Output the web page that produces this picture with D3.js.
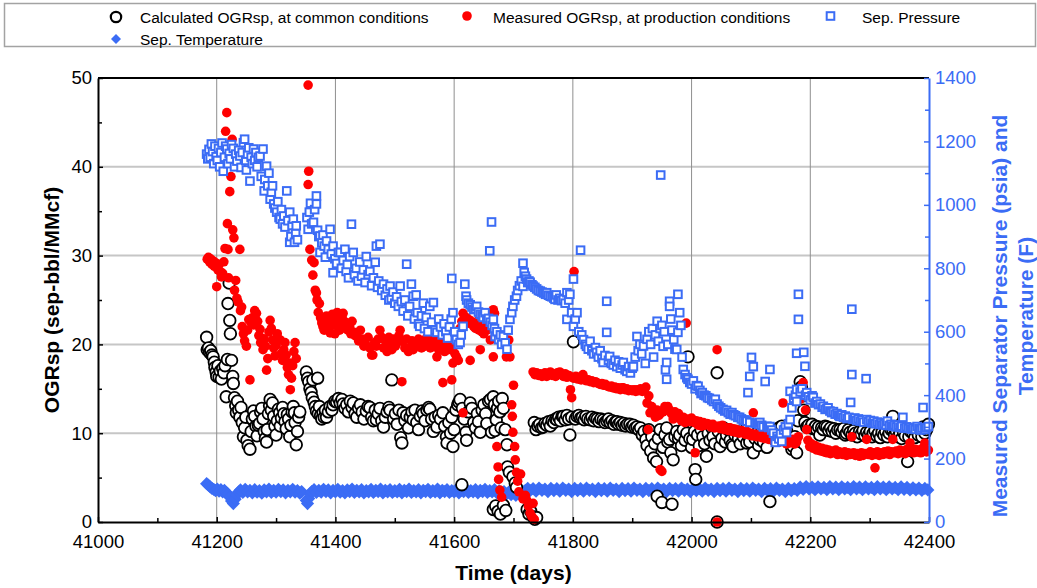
<!DOCTYPE html>
<html>
<head>
<meta charset="utf-8">
<script src="https://cdn.jsdelivr.net/npm/d3@7"></script>
<style>
  body { margin: 0; background: #fff; }
  svg { display: block; font-family: "Liberation Sans", Arial, sans-serif; }
</style>
</head>
<body>
<svg id="chart" width="1037" height="588"></svg>
<script>
// [day, OGR sep-bbl/MMcf] - calculated at common conditions
var calcOgr = [[41183,20.8],[41184,19.4],[41186,19.6],[41188,19.1],[41190,19.3],[41192,18.8],[41194,18.6],[41196,18.0],[41197,17.4],[41199,16.9],[41200,16.4],[41202,17.6],[41204,16.3],[41206,17.0],[41208,16.1],[41210,17.3],[41212,16.8],[41214,17.6],[41216,14.1],[41218,18.3],[41219,24.6],[41221,26.9],[41222,22.7],[41223,21.2],[41225,18.2],[41227,16.4],[41228,15.6],[41230,14.0],[41232,13.1],[41233,12.3],[41235,13.6],[41237,12.6],[41239,11.8],[41241,12.9],[41243,11.2],[41245,9.6],[41247,10.6],[41249,11.8],[41251,9.2],[41253,8.6],[41256,8.2],[41258,10.2],[41260,11.6],[41262,12.5],[41264,11.9],[41266,10.8],[41268,9.7],[41270,10.9],[41272,11.1],[41274,12.4],[41276,12.8],[41278,11.6],[41280,10.2],[41282,9.4],[41284,9.0],[41285,10.4],[41287,12.2],[41289,13.1],[41290,13.8],[41292,12.6],[41294,13.4],[41296,11.9],[41298,10.8],[41300,9.8],[41302,11.4],[41304,12.7],[41306,12.3],[41307,10.8],[41309,11.7],[41311,12.9],[41313,12.2],[41315,11.3],[41317,10.5],[41319,12.1],[41321,11.6],[41323,9.6],[41325,10.9],[41327,12.4],[41329,13.0],[41331,12.3],[41332,11.2],[41334,8.7],[41336,10.2],[41338,11.8],[41340,12.4],
  [41351,16.9],[41353,16.2],[41355,15.8],[41357,15.0],[41359,14.6],[41361,14.0],[41362,16.0],[41364,13.5],[41366,13.0],[41368,12.5],[41370,16.2],[41371,12.2],[41373,13.0],[41375,12.0],[41377,11.6],[41379,12.3],[41381,11.8],[41383,12.6],[41385,11.8],[41388,12.4],[41391,13.0],[41394,12.6],[41396,13.2],[41399,13.6],[41402,13.5],[41405,13.9],[41408,13.4],[41411,13.8],[41413,13.3],[41416,12.8],[41419,13.2],[41422,12.4],[41425,13.6],[41428,12.9],[41430,13.4],[41433,12.2],[41436,11.8],[41439,12.8],[41442,13.2],[41445,12.4],[41448,11.6],[41452,12.5],[41455,13.0],[41458,12.9],[41461,11.8],[41464,11.4],[41467,12.6],[41469,11.5],[41472,12.2],[41475,12.8],[41478,11.4],[41481,10.7],[41484,11.8],[41487,12.4],[41490,12.9],[41492,12.6],[41495,16.0],[41498,11.6],[41501,12.2],[41504,11.0],[41507,12.6],[41510,9.5],[41512,8.9],[41514,12.3],[41517,11.4],[41520,12.0],[41523,10.6],[41526,11.8],[41529,12.4],[41531,11.5],[41534,12.6],[41537,11.2],[41540,10.4],[41543,11.9],[41546,12.5],[41548,12.2],[41551,11.4],[41554,12.6],[41557,12.9],[41559,12.7],[41562,11.6],[41565,10.2],[41568,11.8],[41571,10.7],[41574,12.0],[41577,11.6],[41581,12.3],[41584,10.8],[41587,9.6],[41588,8.9],[41591,11.2],[41594,10.0],[41596,11.8],[41598,8.5],[41600,10.4],[41603,12.6],[41606,13.2],[41608,13.5],[41610,13.8],[41613,4.2],[41614,12.8],[41617,11.6],[41620,10.1],[41621,9.2],[41624,12.4],[41627,13.4],[41630,12.8],[41633,11.2],[41636,10.6],[41639,12.2],[41641,11.3],[41644,10.1],[41647,12.6],[41650,13.2],[41653,12.2],[41655,11.1],[41658,13.6],[41661,13.8],[41663,10.1],[41666,14.1],[41668,13.2],[41669,10.3],[41671,11.5],[41673,12.8],[41675,13.6],[41677,12.4],[41679,10.6],[41681,13.9],[41683,12.8],[41686,10.4],[41689,8.7],[41690,6.2],[41693,5.6],[41699,5.1],[41703,4.4],[41705,3.9],[41666,1.4],[41670,1.8],[41674,1.2],[41678,0.9],[41683,1.9],[41687,1.3],[41723,1.4],[41726,0.9],[41729,1.2],[41733,0.6],[41736,0.3],[41739,0.5],
  [41735,11.2],[41738,10.4],[41741,10.8],[41744,11.0],[41747,10.6],[41750,10.7],[41753,11.1],[41756,10.9],[41759,11.3],[41762,10.8],[41765,11.4],[41768,11.2],[41771,11.6],[41773,11.5],[41776,11.8],[41779,11.4],[41782,11.9],[41784,11.9],[41787,11.5],[41790,12.0],[41793,11.6],[41795,9.8],[41798,11.8],[41801,20.3],[41804,11.6],[41807,11.9],[41810,12.0],[41813,11.7],[41816,11.8],[41819,11.5],[41822,11.9],[41825,11.6],[41829,11.5],[41832,11.8],[41835,11.4],[41838,11.7],[41841,11.6],[41844,11.3],[41847,11.6],[41851,11.5],[41854,11.2],[41857,11.4],[41860,11.6],[41863,11.2],[41866,11.4],[41869,11.0],[41872,11.3],[41874,11.3],[41877,11.0],[41880,11.2],[41883,10.9],[41886,11.1],[41889,10.8],[41892,11.0],[41896,11.0],[41899,10.7],[41902,10.9],[41905,10.6],[41908,10.7],[41911,10.4],[41914,10.6],[41917,9.8],[41920,10.2],[41923,9.3],[41925,8.6],[41928,10.4],[41931,8.0],[41933,9.6],[41936,7.2],[41938,8.8],[41941,6.8],[41942,2.9],[41944,9.4],[41947,10.4],[41950,2.2],[41952,8.4],[41955,9.8],[41958,10.6],[41960,9.0],[41963,9.3],[41965,7.8],[41967,2.0],[41969,7.0],[41972,9.6],[41975,10.2],[41978,9.4],[41980,9.8],[41983,8.6],[41986,10.4],[41989,9.2],[41992,10.0],[41994,18.6],[41997,9.4],[42000,8.4],[42002,9.3],[42005,10.2],[42006,5.9],[42007,4.8],[42010,9.8],[42013,8.6],[42016,10.4],[42019,9.6],[42022,8.8],[42025,7.4],[42028,10.0],[42031,9.2],[42034,10.6],[42036,9.6],[42039,8.8],[42043,16.8],[42043,0.0],[42045,10.2],[42048,8.5],[42051,9.4],[42054,10.6],[42057,9.0],[42059,9.8],[42062,10.4],[42065,9.2],[42068,8.7],[42070,8.5],[42073,9.8],[42076,10.2],[42079,9.4],[42082,8.8],[42085,10.0],[42087,9.6],[42090,10.3],[42093,8.9],[42096,9.6],[42098,9.0],[42101,10.2],[42104,7.8],[42107,9.4],[42110,10.0],[42113,8.6],[42115,9.3],[42118,10.1],[42121,9.0],[42124,9.8],[42127,8.4],[42130,9.6],[42132,2.3],[42135,10.2],[42138,9.4],[42141,10.4],[42144,9.8],[42147,10.6],[42149,10.0],[42152,10.8],[42155,9.6],[42158,10.4],[42160,10.4],[42163,9.2],[42166,8.9],[42169,8.2],[42171,8.5],[42174,9.6],[42177,7.8],[42179,11.4],[42181,14.6],[42183,15.8],[42185,15.2],[42187,14.2],[42189,12.6],[42191,11.2],[42194,10.7],[42197,10.9],[42200,10.6],[42203,11.0],[42206,10.5],[42209,10.8],[42211,10.4],[42214,10.7],[42216,9.8],[42219,10.6],[42222,10.4],[42225,10.8],[42228,10.7],[42231,10.3],[42234,10.6],[42237,10.2],[42240,10.5],[42243,10.0],[42246,10.4],[42250,10.4],[42253,10.1],[42256,10.5],[42259,9.8],[42261,10.0],[42264,10.4],[42267,10.1],[42270,9.8],[42273,10.3],[42276,10.0],[42279,9.6],[42283,10.2],[42286,9.9],[42289,10.3],[42292,9.7],[42295,10.1],[42298,9.8],[42301,10.2],[42304,9.6],[42306,10.0],[42309,10.3],[42312,9.7],[42315,10.0],[42318,9.5],[42321,10.1],[42324,9.8],[42327,10.2],[42330,9.6],[42333,10.0],[42336,10.4],[42339,11.9],[42339,10.4],[42342,9.8],[42345,10.2],[42348,9.6],[42351,10.0],[42354,9.4],[42357,10.1],[42360,9.7],[42364,6.8],[42366,9.6],[42369,10.2],[42373,10.0],[42376,9.5],[42379,10.3],[42382,9.8],[42385,10.4],[42388,9.6],[42390,10.7],[42393,10.0],[42396,10.4],[42399,11.0]];

// [day, OGR] - measured at production conditions
var measOgr = [[41184,29.6],[41186,29.8],[41188,29.3],[41190,29.6],[41192,29.0],[41194,29.4],[41196,28.8],[41198,29.2],[41200,26.5],[41202,28.4],[41204,29.0],[41206,28.2],[41208,27.6],[41210,28.0],[41212,29.3],[41214,30.8],[41215,44.0],[41217,46.1],[41218,33.6],[41219,30.7],[41220,27.5],[41222,37.2],[41224,38.9],[41226,43.1],[41227,32.9],[41229,32.0],[41230,26.1],[41232,27.2],[41234,25.2],[41236,24.8],[41239,30.7],[41240,23.8],[41242,24.2],[41243,22.0],[41245,21.2],[41247,20.4],[41250,19.8],[41252,21.6],[41254,22.8],[41256,16.0],[41258,22.4],[41260,23.0],[41262,22.2],[41264,23.8],[41267,23.5],[41269,22.6],[41271,21.0],[41273,21.7],[41274,20.2],[41276,20.7],[41278,19.4],[41280,20.6],[41282,19.8],[41284,17.1],[41286,18.4],[41288,21.4],[41290,22.7],[41292,21.8],[41294,20.5],[41296,19.6],[41298,18.7],[41300,19.9],[41302,21.2],[41304,20.6],[41307,20.5],[41309,19.0],[41311,18.2],[41313,19.4],[41315,20.2],[41317,18.8],[41319,17.4],[41321,16.6],[41323,17.9],[41324,14.9],[41326,16.2],[41328,17.6],[41330,19.2],[41332,20.2],[41334,18.4],
  [41354,49.2],[41355,39.5],[41354,38.0],[41357,30.7],[41360,29.5],[41362,27.8],[41364,29.2],[41366,26.1],[41368,25.8],[41369,25.0],[41371,23.6],[41373,24.6],[41375,23.0],[41377,22.4],[41379,22.0],[41381,21.6],[41383,22.6],[41385,23.2],[41387,21.8],[41389,22.8],[41391,21.3],[41393,22.4],[41395,23.4],[41397,22.2],[41399,21.2],[41401,22.8],[41403,23.6],[41405,22.4],[41407,21.6],[41409,22.8],[41411,23.2],[41413,23.5],[41415,22.6],[41417,21.8],[41419,22.4],[41421,21.6],[41424,22.0],[41426,21.2],[41428,22.6],[41430,21.4],[41433,21.0],[41436,21.2],[41439,20.4],[41442,21.6],[41445,20.6],[41448,19.8],[41452,19.9],[41455,20.8],[41458,19.6],[41461,18.8],[41463,18.8],[41466,20.2],[41469,19.8],[41472,20.6],[41475,21.6],[41478,20.8],[41481,19.6],[41484,20.4],[41487,19.2],[41490,20.8],[41492,20.2],[41495,19.4],[41498,20.6],[41501,19.8],[41504,20.2],[41507,21.0],[41509,21.6],[41512,15.8],[41514,20.4],[41517,19.6],[41520,20.6],[41523,19.2],[41526,19.7],[41529,20.4],[41531,19.4],[41534,20.0],[41537,19.8],[41540,20.6],[41542,20.2],[41545,19.6],[41548,20.4],[41551,19.8],[41554,20.8],[41557,20.2],[41560,19.6],[41563,20.4],[41565,20.8],[41568,19.8],[41571,18.6],[41574,19.4],[41577,20.2],[41580,19.6],[41581,15.7],[41584,19.2],[41587,20.0],[41590,19.4],[41593,19.7],[41596,16.0],[41598,17.9],[41601,19.0],[41604,18.6],[41607,18.2],
  [41610,21.8],[41613,22.6],[41615,23.5],[41615,12.3],[41618,22.8],[41621,23.0],[41624,22.4],[41627,22.7],[41627,18.2],[41630,22.4],[41633,22.0],[41636,21.8],[41639,22.6],[41642,21.6],[41644,22.2],[41644,19.4],[41647,21.4],[41650,21.2],[41653,22.0],[41655,21.6],[41657,22.4],[41660,22.8],[41661,20.5],[41663,23.2],[41666,23.9],[41668,23.5],[41666,18.6],[41672,8.5],[41674,6.2],[41675,4.8],[41677,3.6],[41680,2.8],[41688,18.6],[41692,20.5],[41694,18.6],[41697,13.2],[41698,11.9],[41699,10.1],[41700,15.4],[41702,8.5],[41703,7.0],[41705,5.6],[41707,4.6],[41709,3.4],[41712,5.4],[41716,2.6],[41720,3.0],[41722,2.5],[41725,1.8],[41728,1.0],[41731,0.6],[41733,2.1],[41735,0.3],
  [41733,16.9],[41736,16.6],[41739,16.8],[41742,16.5],[41745,16.7],[41748,16.4],[41750,16.5],[41753,16.8],[41756,16.4],[41759,16.6],[41762,16.9],[41765,16.5],[41768,16.7],[41771,16.4],[41774,16.8],[41778,16.9],[41781,16.6],[41784,16.4],[41787,16.7],[41790,16.3],[41793,16.5],[41795,16.4],[41796,14.9],[41798,14.0],[41801,16.2],[41802,28.2],[41805,16.4],[41808,16.1],[41811,16.3],[41814,16.0],[41817,16.6],[41820,16.1],[41823,15.9],[41826,16.0],[41829,15.8],[41832,15.9],[41835,15.7],[41838,15.8],[41840,15.7],[41843,15.6],[41846,15.5],[41849,15.6],[41852,15.4],[41855,15.5],[41858,15.3],[41862,15.2],[41865,15.3],[41868,15.1],[41871,15.2],[41874,15.0],[41877,15.1],[41880,14.9],[41883,15.1],[41885,15.1],[41888,14.9],[41891,15.0],[41894,14.8],[41897,14.9],[41900,14.8],[41903,14.9],[41906,14.7],[41908,14.9],[41911,14.8],[41914,15.0],[41917,14.7],[41920,14.9],[41923,15.2],[41925,13.4],[41927,10.4],[41928,14.2],[41930,12.3],[41933,13.0],[41936,12.4],[41939,11.8],[41942,12.6],[41945,12.0],[41947,12.2],[41947,5.9],[41950,5.7],[41952,12.4],[41955,13.0],[41958,12.6],[41960,13.0],[41963,12.6],[41966,12.2],[41969,11.6],[41972,12.4],[41975,11.8],[41978,12.2],[41980,11.9],[41983,11.4],[41986,11.8],[41989,11.2],[41991,22.4],[41994,11.6],[41997,11.3],[42000,11.7],[42002,11.5],[42005,11.2],[42006,7.8],[42008,11.4],[42011,10.9],[42014,11.3],[42017,10.8],[42020,11.2],[42023,10.9],[42026,11.1],[42030,11.0],[42033,10.7],[42036,11.0],[42039,10.6],[42043,19.4],[42043,0.0],[42046,10.8],[42049,10.5],[42052,10.9],[42055,10.4],[42059,10.6],[42062,10.3],[42065,10.6],[42068,10.2],[42071,10.5],[42074,10.1],[42077,10.4],[42080,10.0],[42084,10.3],[42087,10.2],[42090,9.9],[42093,10.2],[42096,9.8],[42099,10.0],[42102,9.7],[42104,12.3],[42107,9.9],[42110,9.6],[42113,9.8],[42115,9.8],[42118,9.5],[42121,9.7],[42124,9.4],[42127,9.6],[42130,9.3],[42133,9.5],[42136,9.2],[42139,9.4],[42142,9.1],[42145,9.3],[42148,9.0],[42151,9.2],[42154,13.4],[42157,9.0],[42160,8.8],[42163,9.1],[42166,8.9],[42169,9.2],[42171,9.3],[42174,8.8],[42177,9.0],[42180,9.6],[42183,13.8],[42186,15.3],[42188,15.7],[42190,14.2],[42192,12.6],[42194,10.4],[42196,9.2],[42199,8.5],[42202,8.8],[42205,8.3],[42208,8.6],[42211,8.1],[42214,8.4],[42217,8.0],[42220,8.3],[42223,7.9],[42226,8.2],[42228,7.8],[42231,8.1],[42234,7.7],[42237,8.0],[42240,7.8],[42243,8.1],[42246,7.6],[42249,7.9],[42252,7.7],[42255,7.6],[42258,7.9],[42261,7.5],[42264,7.8],[42267,7.6],[42270,9.6],[42273,7.8],[42276,7.5],[42279,7.7],[42283,7.4],[42286,7.8],[42289,7.5],[42292,7.7],[42295,9.3],[42298,7.6],[42301,7.9],[42304,7.5],[42307,7.8],[42309,6.1],[42310,7.6],[42313,7.9],[42316,7.5],[42319,7.8],[42322,7.6],[42325,7.9],[42328,7.7],[42331,8.0],[42334,7.6],[42337,7.9],[42339,9.3],[42342,7.8],[42345,8.0],[42348,7.7],[42351,8.1],[42354,7.8],[42357,8.0],[42360,7.7],[42363,8.2],[42366,7.9],[42368,8.9],[42371,8.0],[42374,7.8],[42377,8.2],[42380,7.9],[42383,8.1],[42386,7.8],[42389,8.3],[42393,8.9],[42396,7.9],[42399,8.1]];

// [day, psia] - separator pressure
var sepPressure = [[41183,1160],[41185,1145],[41187,1175],[41189,1150],[41191,1192],[41193,1168],[41195,1130],[41197,1185],[41199,1152],[41201,1140],[41203,1178],[41205,1120],[41207,1165],[41209,1195],[41211,1106],[41213,1150],[41215,1185],[41217,1176],[41219,1130],[41221,1162],[41223,1145],[41225,1190],[41228,1178],[41230,1120],[41232,1160],[41234,1138],[41237,1172],[41239,1154],[41241,1118],[41243,1165],[41245,1196],[41247,1207],[41249,1140],[41250,1110],[41252,1160],[41254,1180],[41256,1075],[41258,1150],[41260,1130],[41262,1176],[41264,1140],[41266,1165],[41268,1120],[41270,1150],[41273,1154],[41275,1090],[41278,1176],[41280,1044],[41281,1080],[41284,1122],[41286,1060],[41288,1100],[41290,1018],[41292,1040],[41294,1060],[41296,1003],[41298,990],[41301,977],[41303,1010],[41305,960],[41307,955],[41309,985],[41311,940],[41313,965],[41315,930],[41318,1044],[41320,950],[41323,977],[41323,882],[41325,900],[41327,935],[41329,955],[41331,882],[41333,910],[41334,934],[41336,890],
  [41352,960],[41354,923],[41356,977],[41358,1005],[41360,940],[41363,945],[41365,985],[41368,1028],[41368,1003],[41370,920],[41372,900],[41374,902],[41374,850],[41377,880],[41379,905],[41381,870],[41383,835],[41385,886],[41388,860],[41391,923],[41393,845],[41396,870],[41396,786],[41399,830],[41402,815],[41405,850],[41408,850],[41410,800],[41413,825],[41416,860],[41418,790],[41420,812],[41422,770],[41424,837],[41427,939],[41430,850],[41432,780],[41435,800],[41438,760],[41441,820],[41444,775],[41447,795],[41450,755],[41452,837],[41455,780],[41458,790],[41461,745],[41464,770],[41467,819],[41469,870],[41471,740],[41473,760],[41475,876],[41478,730],[41481,750],[41484,715],[41487,735],[41490,700],[41492,744],[41494,705],[41497,725],[41500,690],[41503,710],[41506,680],[41509,744],[41511,695],[41514,665],[41517,700],[41520,813],[41522,650],[41525,680],[41528,750],[41531,712],[41533,640],[41536,716],[41538,660],[41540,625],[41542,617],[41545,650],[41548,690],[41550,610],[41553,645],[41556,600],[41559,680],[41562,630],[41565,692],[41568,605],[41571,598],[41574,640],[41577,615],[41580,590],[41583,625],[41586,600],[41589,580],[41592,615],[41595,640],[41596,768],[41598,660],[41601,600],[41604,575],[41607,560],[41610,566],[41612,590],[41615,617],[41618,750],[41620,712],[41621,700],[41624,690],[41627,685],[41630,678],[41633,670],[41636,672],[41638,680],[41641,662],[41644,655],[41647,650],[41649,645],[41652,660],[41655,640],[41658,642],[41660,855],[41661,630],[41663,946],[41664,620],[41666,639],[41668,610],[41669,585],[41672,600],[41675,575],[41678,590],[41680,560],[41683,585],[41686,565],[41689,545],[41691,605],[41694,639],[41697,660],[41699,680],[41702,700],[41705,712],[41707,730],[41710,745],[41713,760],[41716,743],[41716,816],[41718,787],[41720,775],[41722,766],[41724,755],[41726,760],[41728,756],[41731,748],[41733,744],[41736,740],[41739,735],[41742,730],[41745,728],[41748,725],[41751,722],[41754,718],[41756,723],[41759,715],[41762,712],[41765,710],[41768,706],[41770,702],[41772,716],[41775,700],[41778,705],[41781,698],[41784,702],[41787,690],[41790,723],[41790,639],[41793,700],[41795,718],[41798,660],[41801,766],[41801,617],[41804,640],[41807,660],[41810,600],[41813,857],[41815,590],[41818,575],[41821,560],[41823,554],[41826,545],[41829,570],[41832,540],[41835,530],[41838,550],[41840,535],[41843,520],[41846,540],[41849,515],[41851,503],[41854,525],[41857,598],[41857,696],[41860,510],[41862,522],[41865,500],[41868,495],[41871,510],[41874,490],[41877,505],[41880,485],[41883,495],[41885,503],[41888,480],[41891,475],[41894,490],[41897,470],[41900,485],[41902,490],[41905,520],[41908,585],[41910,540],[41913,560],[41916,530],[41919,555],[41922,500],[41925,576],[41928,600],[41931,560],[41934,610],[41936,520],[41939,590],[41942,633],[41944,570],[41947,610],[41948,1094],[41950,620],[41952,554],[41954,600],[41956,480],[41958,450],[41958,503],[41960,560],[41963,696],[41963,680],[41965,640],[41967,605],[41970,575],[41972,545],[41975,544],[41977,598],[41977,718],[41980,660],[41982,620],[41984,520],[41986,481],[41989,465],[41992,455],[41994,450],[41997,440],[42000,435],[42003,445],[42006,420],[42008,430],[42011,428],[42014,415],[42016,405],[42018,408],[42021,400],[42024,398],[42027,392],[42030,390],[42034,385],[42037,380],[42040,387],[42043,372],[42046,365],[42049,360],[42053,355],[42056,350],[42059,352],[42062,345],[42065,340],[42068,345],[42071,338],[42074,335],[42078,330],[42081,330],[42084,325],[42087,320],[42090,322],[42093,318],[42095,408],[42098,314],[42098,459],[42101,519],[42104,490],[42107,312],[42110,310],[42113,308],[42115,314],[42118,305],[42121,300],[42124,443],[42127,302],[42130,298],[42132,481],[42132,301],[42135,290],[42138,280],[42141,251],[42144,270],[42147,262],[42150,278],[42152,254],[42155,290],[42158,300],[42160,282],[42163,310],[42166,323],[42166,412],[42169,360],[42172,390],[42175,400],[42177,418],[42177,380],[42180,718],[42180,639],[42177,532],[42183,410],[42186,420],[42189,535],[42191,491],[42192,400],[42194,408],[42197,395],[42200,385],[42203,398],[42205,393],[42208,375],[42211,380],[42214,370],[42217,372],[42220,362],[42222,365],[42225,355],[42228,358],[42230,360],[42233,350],[42236,345],[42239,348],[42242,340],[42245,342],[42248,336],[42250,333],[42253,338],[42256,330],[42259,334],[42262,326],[42265,330],[42268,377],[42270,671],[42270,465],[42272,324],[42275,328],[42278,320],[42281,325],[42284,318],[42287,322],[42290,315],[42294,452],[42295,323],[42298,316],[42301,320],[42304,312],[42307,318],[42310,310],[42313,315],[42316,308],[42319,313],[42322,306],[42325,310],[42328,305],[42330,318],[42333,304],[42336,308],[42339,302],[42342,306],[42345,300],[42348,305],[42351,298],[42354,302],[42356,330],[42359,296],[42362,300],[42365,295],[42368,298],[42371,293],[42374,297],[42377,292],[42380,301],[42383,294],[42386,290],[42389,296],[42390,361],[42393,292],[42396,298],[42399,301]];

// [day, F] - separator temperature
var sepTemperature = [[41183,121],[41186,116],[41189,111],[41192,106],[41195,103],[41198,99],[41201,104],[41204,97],[41207,102],[41210,95],[41213,100],[41216,93],[41219,88],[41222,78],[41225,66],[41228,58],[41231,72],[41234,86],[41237,95],[41240,101],[41244,93],[41248,103],[41252,95],[41256,100],[41260,92],[41264,102],[41268,94],[41272,99],[41276,91],[41280,101],[41284,95],[41288,104],[41292,93],[41296,100],[41300,94],[41304,103],[41308,96],[41312,101],[41316,92],[41320,100],[41324,95],[41328,103],[41332,94],[41336,99],[41340,91],[41343,96],
  [41351,68],[41353,58],[41355,74],[41357,88],[41360,96],[41364,102],[41368,93],[41372,100],[41376,94],[41380,103],[41384,96],[41388,101],[41392,92],[41396,100],[41400,95],[41404,103],[41408,94],[41412,99],[41416,92],[41420,101],[41424,96],[41428,104],[41432,93],[41436,100],[41440,95],[41444,102],[41448,92],[41452,99],[41456,95],[41460,103],[41464,93],[41468,100],[41472,96],[41476,104],[41480,92],[41484,100],[41488,95],[41492,102],[41496,93],[41500,99],[41504,95],[41508,103],[41512,92],[41516,100],[41520,96],[41524,104],[41528,93],[41532,99],[41536,95],[41540,102],[41544,92],[41548,100],[41552,96],[41556,103],[41560,93],[41564,99],[41568,95],[41572,104],[41576,92],[41580,100],[41584,96],[41588,102],[41592,93],[41596,99],[41600,95],[41604,103],[41608,92],[41612,100],[41616,96],[41620,104],[41624,93],[41628,99],[41632,95],[41636,102],[41640,92],[41644,100],[41648,96],[41652,103],[41656,93],[41660,99],[41664,95],[41668,102],[41672,92],[41676,98],[41680,90],[41684,96],[41688,88],[41692,94],[41696,86],[41700,92],[41704,84],[41708,90],[41712,86],[41716,96],[41720,100],[41724,106],
  [41728,99],[41733,105],[41738,97],[41743,107],[41748,100],[41753,104],[41758,96],[41763,106],[41768,99],[41773,105],[41778,97],[41783,107],[41788,100],[41793,104],[41798,96],[41803,106],[41808,99],[41813,105],[41818,97],[41823,107],[41828,100],[41833,104],[41838,96],[41843,106],[41848,99],[41853,105],[41858,97],[41863,107],[41868,100],[41873,104],[41878,96],[41883,106],[41888,99],[41893,105],[41898,97],[41903,107],[41908,100],[41913,104],[41918,96],[41923,106],[41928,99],[41933,105],[41938,97],[41943,107],[41948,100],[41953,104],[41958,96],[41963,106],[41968,99],[41973,105],[41978,97],[41983,107],[41988,100],[41993,104],[41998,96],[42003,106],[42008,99],[42013,105],[42018,97],[42023,107],[42028,100],[42033,104],[42038,96],[42043,106],[42048,99],[42053,105],[42058,97],[42063,107],[42068,100],[42073,104],[42078,96],[42083,106],[42088,99],[42093,105],[42098,97],[42103,107],[42108,100],[42113,104],[42118,96],[42123,106],[42128,99],[42133,105],[42138,97],[42143,107],[42148,100],[42153,104],[42158,96],[42163,106],[42168,99],[42173,105],[42178,100],[42183,110],[42188,103],[42193,112],[42198,104],[42203,110],[42208,102],[42213,111],[42218,104],[42223,109],[42228,102],[42233,112],[42238,104],[42243,110],[42248,102],[42253,111],[42258,104],[42263,109],[42268,102],[42273,112],[42278,104],[42283,110],[42288,102],[42293,111],[42298,104],[42303,109],[42308,102],[42313,112],[42318,104],[42323,110],[42328,102],[42333,111],[42338,104],[42343,109],[42348,102],[42353,111],[42358,103],[42363,109],[42368,101],[42373,108],[42378,101],[42383,107],[42388,100],[42393,106],[42398,101]];

var xTicks = [41000, 41200, 41400, 41600, 41800, 42000, 42200, 42400];
var xMinor = [41100, 41300, 41500, 41700, 41900, 42100, 42300];
var yLeftTicks = [0, 10, 20, 30, 40, 50];
var yLeftMinor = [5, 15, 25, 35, 45];
var yRightTicks = [0, 200, 400, 600, 800, 1000, 1200, 1400];
var yRightMinor = [100, 300, 500, 700, 900, 1100, 1300];

var legendItems = ["Calculated OGRsp, at common conditions", "Measured OGRsp, at production conditions", "Sep. Pressure", "Sep. Temperature"];

var blue = "#3b6cf5";

var margin = {top: 78, right: 108, bottom: 66, left: 98},
    width = 1037 - margin.left - margin.right,
    height = 588 - margin.top - margin.bottom;

var root = d3.select("#chart");
var svg = root.append("g")
    .attr("transform", "translate(" + margin.left + "," + margin.top + ")");

var x = d3.scaleLinear().domain([41000, 42400]).range([0, width]);
var yL = d3.scaleLinear().domain([0, 50]).range([height, 0]);
var yR = d3.scaleLinear().domain([0, 1400]).range([height, 0]);

// grid
svg.append("g").selectAll("line")
  .data(yLeftTicks.slice(1, -1))
  .enter().append("line")
    .attr("x1", 0).attr("x2", width)
    .attr("y1", function(d) { return yL(d); })
    .attr("y2", function(d) { return yL(d); })
    .attr("stroke", "#c6c6c6").attr("stroke-width", 2);
svg.append("g").selectAll("line")
  .data(xTicks.slice(1, -1))
  .enter().append("line")
    .attr("y1", 0).attr("y2", height)
    .attr("x1", function(d) { return x(d); })
    .attr("x2", function(d) { return x(d); })
    .attr("stroke", "#8e8e8e").attr("stroke-width", 1);

// marks: temperature first, then calc OGR, measured OGR, pressure
var diamond = function(r) { return "M0," + (-r) + "L" + r + ",0L0," + r + "L" + (-r) + ",0Z"; };

svg.append("g").selectAll("path")
  .data(sepTemperature)
  .enter().append("path")
    .attr("d", diamond(6.6))
    .attr("transform", function(d) { return "translate(" + x(d[0]) + "," + yR(d[1]) + ")"; })
    .attr("fill", blue);

svg.append("g").selectAll("circle")
  .data(calcOgr)
  .enter().append("circle")
    .attr("cx", function(d) { return x(d[0]); })
    .attr("cy", function(d) { return yL(d[1]); })
    .attr("r", 5.8)
    .attr("fill", "#fff")
    .attr("stroke", "#000")
    .attr("stroke-width", 1.8);

svg.append("g").selectAll("circle")
  .data(measOgr)
  .enter().append("circle")
    .attr("cx", function(d) { return x(d[0]); })
    .attr("cy", function(d) { return yL(d[1]); })
    .attr("r", 4.8)
    .attr("fill", "#ff0000");

svg.append("g").selectAll("rect")
  .data(sepPressure)
  .enter().append("rect")
    .attr("x", function(d) { return x(d[0]) - 3.8; })
    .attr("y", function(d) { return yR(d[1]) - 3.8; })
    .attr("width", 7.6).attr("height", 7.6)
    .attr("fill", "#fff")
    .attr("stroke", blue)
    .attr("stroke-width", 2);

// axes
function styleAxis(g, color) {
  g.select(".domain").attr("stroke", color).attr("stroke-width", 2);
  g.selectAll(".tick line").attr("stroke", color).attr("stroke-width", 1.5);
  g.selectAll(".tick text").attr("fill", color).style("font-size", "18.5px")
    .style("font-family", '"Liberation Sans", Arial, sans-serif');
}

var xAxis = svg.append("g")
    .attr("transform", "translate(0," + height + ")")
    .call(d3.axisBottom(x).tickValues(xTicks).tickFormat(d3.format("d"))
      .tickSizeInner(-5).tickSizeOuter(0).tickPadding(13));
styleAxis(xAxis, "#000");
svg.append("g")
    .attr("transform", "translate(0," + height + ")")
    .call(d3.axisBottom(x).tickValues(xMinor).tickFormat("").tickSizeInner(-4).tickSizeOuter(0))
    .call(function(g) { g.select(".domain").remove(); styleAxis(g, "#000"); });

var yAxisL = svg.append("g")
    .call(d3.axisLeft(yL).tickValues(yLeftTicks).tickFormat(d3.format("d"))
      .tickSizeInner(-5).tickSizeOuter(0).tickPadding(6));
styleAxis(yAxisL, "#000");
svg.append("g")
    .call(d3.axisLeft(yL).tickValues(yLeftMinor).tickFormat("").tickSizeInner(-4).tickSizeOuter(0))
    .call(function(g) { g.select(".domain").remove(); styleAxis(g, "#000"); });

// top frame line
svg.append("line")
    .attr("x1", 0).attr("x2", width).attr("y1", 0).attr("y2", 0)
    .attr("stroke", "#000").attr("stroke-width", 2);

var yAxisR = svg.append("g")
    .attr("transform", "translate(" + width + ",0)")
    .call(d3.axisRight(yR).tickValues(yRightTicks).tickFormat(d3.format("d"))
      .tickSizeInner(-5).tickSizeOuter(0).tickPadding(6));
styleAxis(yAxisR, blue);
svg.append("g")
    .attr("transform", "translate(" + width + ",0)")
    .call(d3.axisRight(yR).tickValues(yRightMinor).tickFormat("").tickSizeInner(-4).tickSizeOuter(0))
    .call(function(g) { g.select(".domain").remove(); styleAxis(g, blue); });

// axis titles
root.append("text")
    .attr("x", margin.left + width / 2).attr("y", 580)
    .attr("text-anchor", "middle")
    .style("font-size", "21px").style("font-weight", "bold")
    .text("Time (days)");

root.append("text")
    .attr("transform", "translate(52," + (margin.top + height / 2) + ") rotate(-90)")
    .attr("dy", "0.35em")
    .attr("text-anchor", "middle")
    .style("font-size", "21px").style("font-weight", "bold")
    .text("OGRsp (sep-bbl/MMcf)");

var rTitle = root.append("text")
    .attr("transform", "translate(1000,316) rotate(-90)")
    .attr("text-anchor", "middle")
    .attr("fill", blue)
    .style("font-size", "21px").style("font-weight", "bold");
rTitle.append("tspan").attr("x", 0).attr("dy", "0.35em").text("Measured Separator Pressure (psia) and");
rTitle.append("tspan").attr("x", 0).attr("dy", "1.2em").text("Temperature (F)");

// legend
var legend = root.append("g");
legend.append("rect")
    .attr("x", 4.5).attr("y", 3.5).attr("width", 1031).attr("height", 43)
    .attr("fill", "#fff").attr("stroke", "#a3a3a3").attr("stroke-width", 1.5);

var legendPos = [[116, 17, 140, 23], [467, 16, 493, 23], [830.5, 16, 862, 23], [116, 39, 140, 45]];
legend.selectAll("text.item")
  .data(legendItems)
  .enter().append("text")
    .attr("class", "item")
    .attr("x", function(d, i) { return legendPos[i][2]; })
    .attr("y", function(d, i) { return legendPos[i][3]; })
    .style("font-size", "15.5px")
    .text(function(d) { return d; });

legend.append("circle").attr("cx", legendPos[0][0]).attr("cy", legendPos[0][1]).attr("r", 5.2)
    .attr("fill", "#fff").attr("stroke", "#000").attr("stroke-width", 2.2);
legend.append("circle").attr("cx", legendPos[1][0]).attr("cy", legendPos[1][1]).attr("r", 4.8)
    .attr("fill", "#ff0000");
legend.append("rect").attr("x", legendPos[2][0] - 3.8).attr("y", legendPos[2][1] - 3.8)
    .attr("width", 7.6).attr("height", 7.6)
    .attr("fill", "#fff").attr("stroke", blue).attr("stroke-width", 2);
legend.append("path").attr("d", diamond(5))
    .attr("transform", "translate(" + legendPos[3][0] + "," + legendPos[3][1] + ")")
    .attr("fill", blue);
</script>
</body>
</html>
